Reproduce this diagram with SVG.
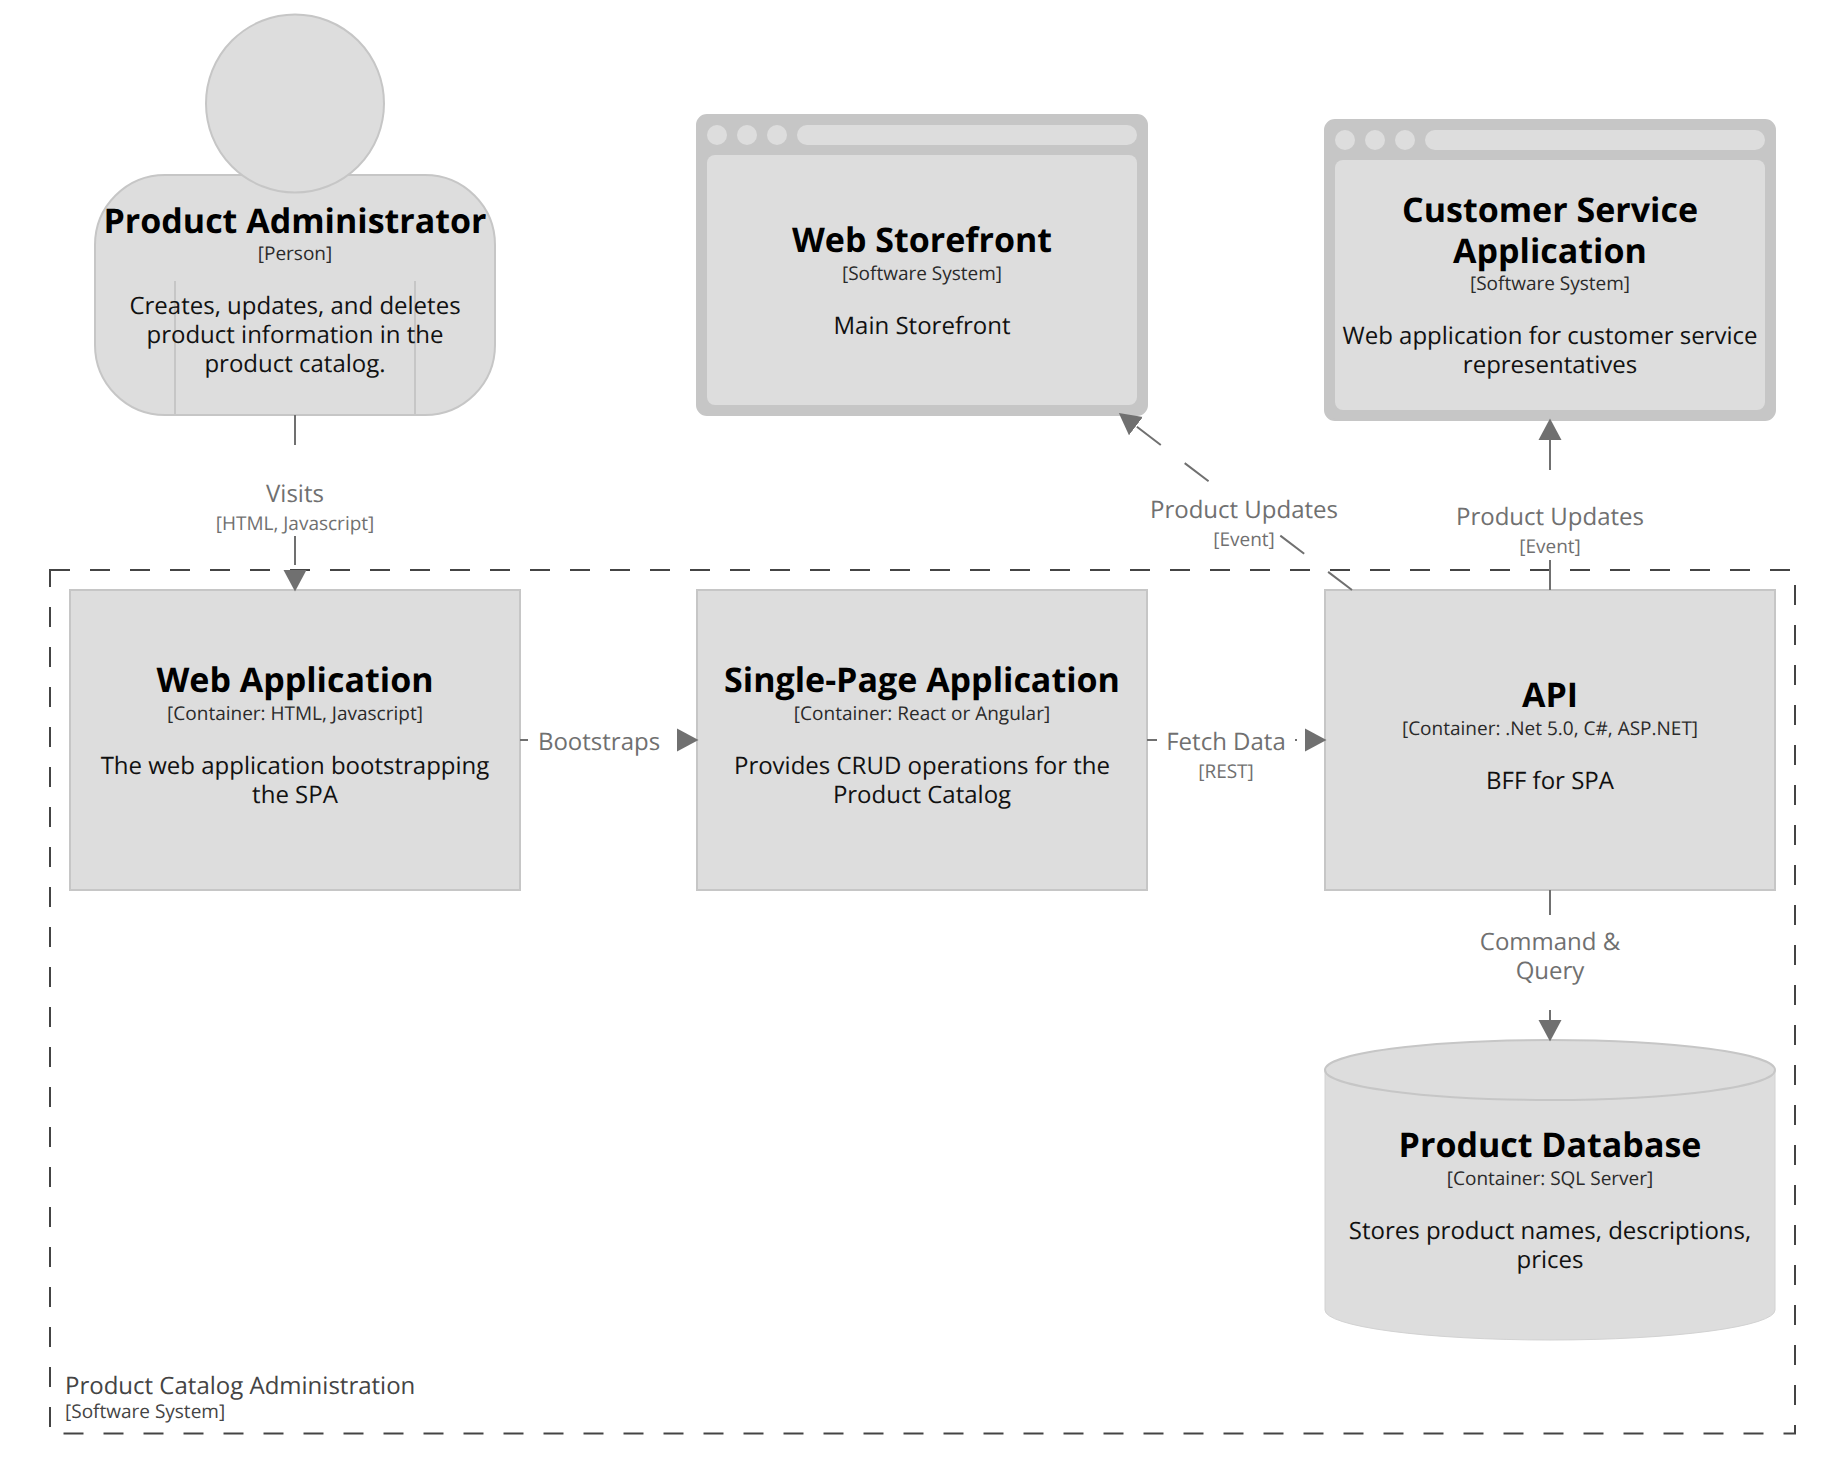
<svg xmlns="http://www.w3.org/2000/svg" width="1845" height="1483" viewBox="0 0 1845 1483">
<defs>
<style>
text{font-family:"Open Sans","Noto Sans","DejaVu Sans",sans-serif;text-anchor:middle;text-rendering:geometricPrecision}
.t{font-size:34px;font-weight:700;fill:#000}
.s{font-size:19px;fill:#2a2a2a}
.d{font-size:24px;fill:#111}
.lt{font-size:24px;fill:#707070}
.ls{font-size:19px;fill:#707070}
.box{fill:#ddd;stroke:#c6c6c6;stroke-width:2}
.plain{fill:#ddd}
.frame{fill:#c6c6c6;stroke:#c6c6c6;stroke-width:2}
.edge{fill:none;stroke:#707070;stroke-width:2;stroke-dasharray:30 30}
.mask{fill:#fff}
</style>
<marker id="arrow" markerUnits="userSpaceOnUse" markerWidth="23" markerHeight="24" refX="20" refY="12" orient="auto"><path d="M0 0.5 L21.5 12 L0 23.5 Z" fill="#707070"/></marker>
</defs>
<rect width="1845" height="1483" fill="#fff"/>
<g id="boundary">
<rect x="50" y="570" width="1745" height="863.5" fill="none" stroke="#444" stroke-width="2" stroke-dasharray="20 20"/>
<text x="65" y="1394" font-size="24" fill="#444" style="text-anchor:start">Product Catalog Administration</text>
<text x="65" y="1418" font-size="19" fill="#444" style="text-anchor:start">[Software System]</text>
</g>
<g id="product-administrator">
<rect class="box" x="95" y="175" width="400" height="240" rx="70" ry="70"/>
<line x1="175" y1="281" x2="175" y2="415" stroke="#c6c6c6" stroke-width="2"/>
<line x1="415" y1="281" x2="415" y2="415" stroke="#c6c6c6" stroke-width="2"/>
<circle class="box" cx="295" cy="103.5" r="89"/>
<text class="t" x="295" y="232.5">Product Administrator</text>
<text class="s" x="295" y="260">[Person]</text>
<text class="d" x="295" y="314">Creates, updates, and deletes</text>
<text class="d" x="295" y="343">product information in the</text>
<text class="d" x="295" y="372">product catalog.</text>
</g>
<g id="web-storefront">
<rect class="frame" x="697" y="115" width="450" height="300" rx="10"/>
<circle class="plain" cx="717" cy="135" r="10"/><circle class="plain" cx="747" cy="135" r="10"/><circle class="plain" cx="777" cy="135" r="10"/>
<rect class="plain" x="797" y="125" width="340" height="20" rx="10"/>
<rect class="plain" x="707" y="155" width="430" height="250" rx="8"/>
<text class="t" x="922" y="252">Web Storefront</text>
<text class="s" x="922" y="280">[Software System]</text>
<text class="d" x="922" y="334">Main Storefront</text>
</g>
<g id="customer-service-application">
<rect class="frame" x="1325" y="120" width="450" height="300" rx="10"/>
<circle class="plain" cx="1345" cy="140" r="10"/><circle class="plain" cx="1375" cy="140" r="10"/><circle class="plain" cx="1405" cy="140" r="10"/>
<rect class="plain" x="1425" y="130" width="340" height="20" rx="10"/>
<rect class="plain" x="1335" y="160" width="430" height="250" rx="8"/>
<text class="t" x="1550" y="222">Customer Service</text>
<text class="t" x="1550" y="263">Application</text>
<text class="s" x="1550" y="290">[Software System]</text>
<text class="d" x="1550" y="344">Web application for customer service</text>
<text class="d" x="1550" y="373">representatives</text>
</g>
<g id="web-application">
<rect class="box" x="70" y="590" width="450" height="300"/>
<text class="t" x="295" y="692">Web Application</text>
<text class="s" x="295" y="720">[Container: HTML, Javascript]</text>
<text class="d" x="295" y="774">The web application bootstrapping</text>
<text class="d" x="295" y="803">the SPA</text>
</g>
<g id="single-page-application">
<rect class="box" x="697" y="590" width="450" height="300"/>
<text class="t" x="922" y="692">Single-Page Application</text>
<text class="s" x="922" y="720">[Container: React or Angular]</text>
<text class="d" x="922" y="774">Provides CRUD operations for the</text>
<text class="d" x="922" y="803">Product Catalog</text>
</g>
<g id="api">
<rect class="box" x="1325" y="590" width="450" height="300"/>
<text class="t" x="1550" y="707">API</text>
<text class="s" x="1550" y="735">[Container: .Net 5.0, C#, ASP.NET]</text>
<text class="d" x="1550" y="789">BFF for SPA</text>
</g>
<g id="product-database">
<path class="plain" d="M1325 1070 A225 30 0 0 1 1775 1070 V1310 A225 30 0 0 1 1325 1310 Z"/>
<path d="M1325 1070 V1310 A225 30 0 0 0 1775 1310 V1070" fill="none" stroke="#d2d2d2" stroke-width="1"/>
<ellipse class="box" cx="1550" cy="1070" rx="225" ry="30"/>
<text class="t" x="1550" y="1157">Product Database</text>
<text class="s" x="1550" y="1185">[Container: SQL Server]</text>
<text class="d" x="1550" y="1239">Stores product names, descriptions,</text>
<text class="d" x="1550" y="1268">prices</text>
</g>
<g id="connectors">
<line class="edge" x1="295" y1="415" x2="295" y2="590" marker-end="url(#arrow)"/>
<rect class="mask" x="205" y="475" width="180" height="61"/>
<text class="lt" x="295" y="502">Visits</text>
<text class="ls" x="295" y="530">[HTML, Javascript]</text>
<line class="edge" x1="520" y1="740" x2="697" y2="740" marker-end="url(#arrow)"/>
<rect class="mask" x="528" y="720" width="142" height="40"/>
<text class="lt" x="599" y="750">Bootstraps</text>
<line class="edge" x1="1147" y1="740" x2="1325" y2="740" marker-end="url(#arrow)"/>
<rect class="mask" x="1157" y="720" width="138" height="60"/>
<text class="lt" x="1226" y="750">Fetch Data</text>
<text class="ls" x="1226" y="778">[REST]</text>
<line class="edge" x1="1352" y1="590" x2="1120" y2="414" marker-end="url(#arrow)"/>
<rect class="mask" x="1149" y="492" width="192" height="33"/>
<rect class="mask" x="1215" y="527" width="62" height="26"/>
<text class="lt" x="1244" y="518">Product Updates</text>
<text class="ls" x="1244" y="546">[Event]</text>
<line class="edge" x1="1550" y1="590" x2="1550" y2="420" marker-end="url(#arrow)"/>
<rect class="mask" x="1454" y="495" width="192" height="65"/>
<text class="lt" x="1550" y="525">Product Updates</text>
<text class="ls" x="1550" y="553">[Event]</text>
<line class="edge" x1="1550" y1="890" x2="1550" y2="1040" marker-end="url(#arrow)"/>
<rect class="mask" x="1469" y="915" width="162" height="95"/>
<text class="lt" x="1550" y="950">Command &amp;</text>
<text class="lt" x="1550" y="979">Query</text>
</g>
</svg>
